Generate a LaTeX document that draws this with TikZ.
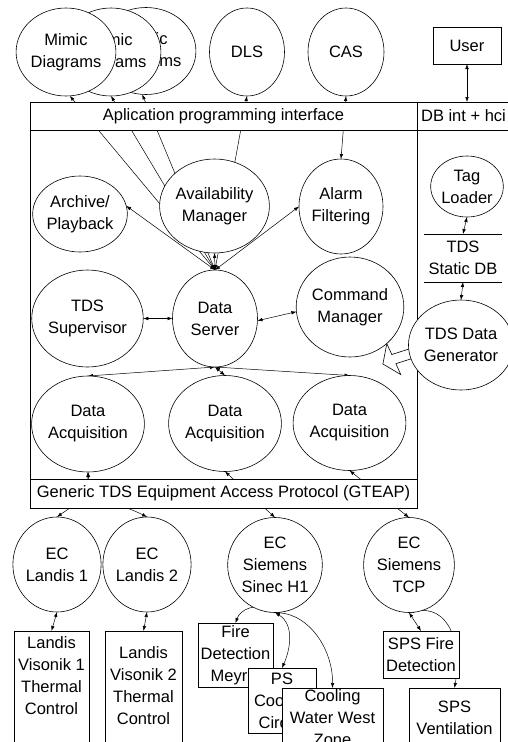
\documentclass[tikz,border=0pt]{standalone}
\usepackage{fontspec}
\setmainfont{Liberation Sans}
\usetikzlibrary{shapes.geometric,arrows.meta}
\pgfdeclarelayer{bg}
\pgfsetlayers{bg,main}
\begin{document}
\begin{tikzpicture}[x=1pt,y=-1pt,
  every node/.style={font=\fontsize{16.5}{22}\selectfont, outer sep=0pt},
  proc/.style={ellipse, draw, fill=white, inner sep=0pt, align=center, line width=0.6pt},
  rbox/.style={rectangle, draw, fill=white, inner sep=0pt, align=center, line width=0.6pt},
  openbox/.style={rbox, anchor=north, text depth=120pt},
  con/.style={line width=0.5pt, {Latex[length=5pt,width=3.6pt]}-{Latex[length=5pt,width=3.6pt]}},
]
\useasboundingbox (0,0) rectangle (508,742);

% top row
\node[proc, minimum width=73pt, minimum height=87pt] (m3) at (146,51) {Mimic\\Diagrams};
\node[proc, minimum width=73pt, minimum height=88pt] (m2) at (111,52) {Mimic\\Diagrams};
\node[proc, minimum width=73pt, minimum height=88pt] (m1) at (66,52) {Mimic\\Diagrams};
\node[proc, minimum width=75pt, minimum height=88pt] (dls) at (247,52) {DLS};
\node[proc, minimum width=76pt, minimum height=88pt] (cas) at (346,52) {CAS};
\node[rbox, minimum width=68pt, minimum height=37pt] (user) at (467,45.5) {User};

% fat arrow from the data generator
\draw[line width=0.6pt, fill=white] (428.4,353.3) -- (395.9,363.7) -- (400.8,374.6) -- (382.9,364.0)
  -- (386.8,343.6) -- (391.8,354.5) -- (424.3,344.1) -- cycle;

% frame and strips
\node[draw, line width=0.6pt, inner sep=0pt, anchor=north west, minimum width=387pt, minimum height=406pt] (frame) at (30,102) {};
\node[rbox, anchor=north west, minimum width=387pt, minimum height=28pt] (api) at (30,102) {Aplication programming interface};
\node[rbox, anchor=north west, minimum width=93pt, minimum height=28pt] (dbint) at (417,102) {DB int + hci};
\node[rbox, anchor=north west, minimum width=387pt, minimum height=29pt] (gteap) at (30,479) {Generic TDS Equipment Access Protocol (GTEAP)};

% inside the frame
\node[proc, minimum width=84pt, minimum height=76pt] (arch) at (80,214) {Archive/\\Playback};
\node[proc, minimum width=85pt, minimum height=94pt] (avail) at (214.5,206) {Availability\\Manager};
\node[proc, minimum width=84pt, minimum height=95pt] (alarm) at (341,206.5) {Alarm\\Filtering};
\node[proc, minimum width=83pt, minimum height=97pt] (sup) at (87.5,318.5) {TDS\\Supervisor};
\node[proc, minimum width=85pt, minimum height=97pt] (ds) at (215,318.5) {Data\\Server};
\node[proc, minimum width=84pt, minimum height=100pt] (cm) at (350,307) {Command\\Manager};
\node[proc, minimum width=85pt, minimum height=96pt] (da1) at (88,424) {Data\\Acquisition};
\node[proc, minimum width=85pt, minimum height=96pt] (da2) at (225,423.5) {Data\\Acquisition};
\node[proc, minimum width=85pt, minimum height=95pt] (da3) at (349.5,423) {Data\\Acquisition};

% right column
\node[proc, minimum width=68pt, minimum height=61pt] (tag) at (467,186.5) {Tag\\Loader};
\node[inner sep=0pt, align=center, minimum width=78pt, minimum height=48pt] (sdb) at (463,258) {TDS\\Static DB};
\draw[line width=0.6pt] (sdb.north west) -- (sdb.north east) (sdb.south west) -- (sdb.south east);
\node[proc, minimum width=80pt, minimum height=90pt] (gen) at (461,345) {TDS Data\\Generator};

% equipment controllers
\node[proc, minimum width=84pt, minimum height=95pt] (ecl1) at (57,564.5) {EC\\Landis 1};
\node[proc, minimum width=82pt, minimum height=95pt] (ecl2) at (147,564.5) {EC\\Landis 2};
\node[proc, minimum width=84pt, minimum height=95pt] (ecs) at (275,565) {EC\\Siemens\\Sinec H1};
\node[proc, minimum width=84pt, minimum height=95pt] (ect) at (409,565) {EC\\Siemens\\TCP};

% equipment boxes
\node[openbox, minimum width=75pt, inner ysep=6pt] (lv1) at (51.5,631) {Landis\\Visonik 1\\Thermal\\Control};
\node[openbox, minimum width=77pt, inner ysep=16pt] (lv2) at (143.5,631) {Landis\\Visonik 2\\Thermal\\Control};
\node[rbox, minimum width=75pt, minimum height=64pt] (fire) at (235.5,655) {Fire\\Detection\\Meyrin};
\node[rbox, minimum width=68pt, minimum height=65pt] (ps) at (282,700.5) {PS\\Cooling\\Circuit};
\node[openbox, minimum width=101pt, inner ysep=2pt] (cool) at (332.5,688) {Cooling\\Water West\\Zone};
\node[rbox, minimum width=76pt, minimum height=47pt] (spsf) at (421,654.5) {SPS Fire\\Detection};
\node[openbox, minimum width=91pt, inner ysep=13pt] (spsv) at (454.5,688) {SPS\\Ventilation};

% connectors
\begin{pgfonlayer}{bg}
\draw[con] (ds.north) -- (m1.-85);
\draw[con] (ds.north) -- (m2.south);
\draw[con] (ds.north) -- (m3.-95);
\draw[con] (ds.north) -- (dls.south);
\draw[con] (cas.south) -- (alarm.north);
\draw[con] (ds.north) -- (arch.10);
\draw[con] (ds.north) -- (alarm.west);
\draw[con] (ds.north) -- (avail.south);
\draw[con] (ds.west) -- (sup.east);
\draw[con] (ds.-3) -- (cm.185);
\draw[con] (ds.south) -- (da1.north);
\draw[con] (ds.south) -- (da2.north);
\draw[con] (ds.south) -- (da3.north);
\draw[con] (user.south) -- (user.south |- dbint.north);
\draw[con] (tag.south) -- (sdb.north);
\draw[con] (sdb.south) -- (gen.north);
\draw[con] (da1.south) .. controls (88,500) and (75,504) .. (ecl1.north);
\draw[con] (da1.south) .. controls (90,500) and (120,503) .. (ecl2.north);
\draw[con] (da2.south) -- (ecs.north);
\draw[con] (da3.south) -- (ect.north);
\draw[con] (ecl1.south) -- (lv1.north);
\draw[con] (ecl2.south) -- (lv2.north);
\draw[con] (ecs.south) .. controls (255,602) and (240,610) .. (fire.north);
\draw[con] (ecs.south) .. controls (295,625) and (290,650) .. (ps.north);
\draw[con] (ecs.south) .. controls (310,615) and (333,650) .. (cool.north);
\draw[con] (ect.south) -- (spsf.north);
\draw[con] (ect.south) .. controls (450,603) and (462,645) .. (spsv.north);
\end{pgfonlayer}
\end{tikzpicture}
\end{document}
